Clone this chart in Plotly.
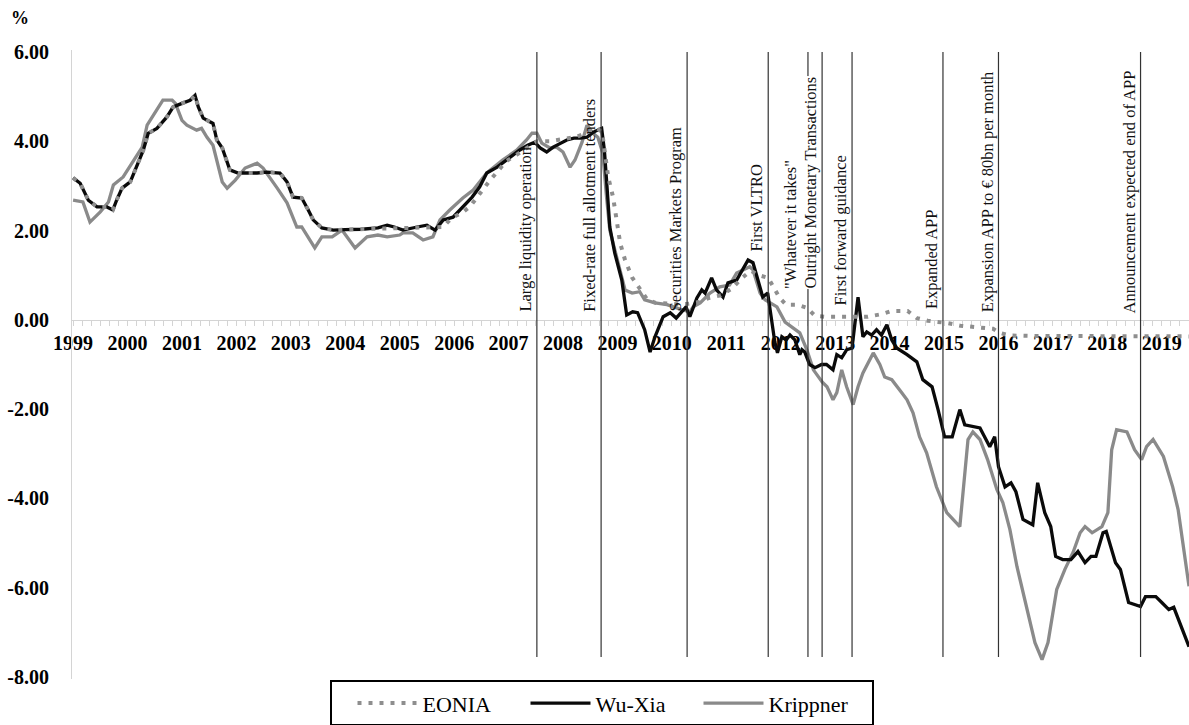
import plotly.graph_objects as go

# ---------------- data (decimal years, % values) ----------------
eonia_t = [1999.00, 1999.13, 1999.28, 1999.44, 1999.62, 1999.73, 1999.80, 1999.90, 2000.05, 2000.20,
           2000.29, 2000.38, 2000.54, 2000.72, 2000.84, 2001.00, 2001.15, 2001.24, 2001.30, 2001.39,
           2001.57, 2001.64, 2001.74, 2001.88, 2002.03, 2002.38, 2002.56, 2002.80, 2002.93, 2003.04,
           2003.20, 2003.32, 2003.41, 2003.57, 2003.78, 2004.20, 2004.60, 2005.00, 2005.40, 2005.80,
           2005.95, 2006.15, 2006.30, 2006.42, 2006.55, 2006.66, 2006.79, 2006.95, 2007.15, 2007.35,
           2007.52, 2007.75, 2008.00, 2008.25, 2008.45, 2008.62, 2008.72, 2008.83, 2008.92, 2008.99,
           2009.05, 2009.14, 2009.27, 2009.41, 2009.55, 2009.70, 2009.90, 2010.10, 2010.30, 2010.50,
           2010.70, 2010.90, 2011.10, 2011.30, 2011.45, 2011.60, 2011.77, 2011.98, 2012.10, 2012.30,
           2012.48, 2012.63, 2012.80, 2013.00, 2013.30, 2013.60, 2013.86, 2014.04, 2014.33, 2014.50,
           2014.70, 2015.05, 2015.30, 2015.50, 2015.71, 2015.90, 2016.02, 2016.20, 2016.60, 2017.00,
           2017.50, 2018.00, 2018.50, 2019.00, 2019.50]
eonia_v = [3.18, 3.06, 2.68, 2.53, 2.53, 2.46, 2.68, 2.95, 3.09, 3.51,
           3.80, 4.18, 4.29, 4.54, 4.77, 4.85, 4.92, 5.03, 4.77, 4.52,
           4.40, 4.03, 3.85, 3.36, 3.29, 3.29, 3.31, 3.29, 3.09, 2.75,
           2.73, 2.46, 2.24, 2.06, 2.01, 2.03, 2.04, 2.05, 2.07, 2.08,
           2.28, 2.40, 2.55, 2.75, 2.95, 3.13, 3.31, 3.55, 3.70, 3.85,
           4.00, 4.00, 4.05, 4.10, 4.20, 4.30, 4.20, 3.20, 2.75, 2.17,
           1.72, 1.34, 0.95, 0.70, 0.45, 0.38, 0.36, 0.35, 0.36, 0.40,
           0.50, 0.55, 0.70, 0.95, 1.10, 1.00, 0.94, 0.49, 0.34, 0.34,
           0.27, 0.09, 0.07, 0.07, 0.07, 0.07, 0.13, 0.20, 0.20, 0.04,
           -0.02, -0.07, -0.13, -0.16, -0.18, -0.20, -0.29, -0.35, -0.36, -0.36,
           -0.36, -0.36, -0.37, -0.37, -0.37]

wuxia_t = [1999.00, 1999.13, 1999.28, 1999.44, 1999.62, 1999.73, 1999.80, 1999.90, 2000.05, 2000.20,
           2000.29, 2000.38, 2000.54, 2000.72, 2000.84, 2001.00, 2001.15, 2001.24, 2001.30, 2001.39,
           2001.57, 2001.64, 2001.74, 2001.88, 2002.03, 2002.38, 2002.56, 2002.80, 2002.93, 2003.04,
           2003.20, 2003.32, 2003.41, 2003.57, 2003.78, 2004.00, 2004.30, 2004.60, 2004.77, 2004.90,
           2005.06, 2005.32, 2005.50, 2005.65, 2005.80, 2005.98, 2006.16, 2006.33, 2006.47, 2006.60,
           2006.79, 2007.03, 2007.20, 2007.35, 2007.48, 2007.58, 2007.70, 2007.82, 2007.95, 2008.07,
           2008.20, 2008.32, 2008.44, 2008.55, 2008.71, 2008.76, 2008.80, 2008.86, 2008.95, 2009.08,
           2009.17, 2009.28, 2009.37, 2009.50, 2009.60, 2009.69, 2009.84, 2009.97, 2010.08, 2010.18,
           2010.26, 2010.33, 2010.46, 2010.55, 2010.61, 2010.73, 2010.82, 2010.94, 2011.03, 2011.19,
           2011.30, 2011.40, 2011.49, 2011.58, 2011.67, 2011.76, 2011.83, 2011.89, 2011.94, 2012.02,
           2012.10, 2012.17, 2012.26, 2012.35, 2012.39, 2012.44, 2012.53, 2012.63, 2012.75, 2012.84,
           2012.96, 2013.03, 2013.12, 2013.21, 2013.31, 2013.36, 2013.42, 2013.51, 2013.58, 2013.67,
           2013.76, 2013.85, 2013.95, 2014.04, 2014.13, 2014.32, 2014.50, 2014.61, 2014.78, 2014.89,
           2015.01, 2015.15, 2015.29, 2015.38, 2015.51, 2015.66, 2015.84, 2015.93, 2016.00, 2016.12,
           2016.23, 2016.32, 2016.45, 2016.63, 2016.72, 2016.85, 2016.96, 2017.05, 2017.18, 2017.33,
           2017.46, 2017.59, 2017.70, 2017.79, 2017.92, 2017.98, 2018.15, 2018.24, 2018.39, 2018.52,
           2018.61, 2018.70, 2018.89, 2019.00, 2019.13, 2019.22, 2019.32, 2019.50]
wuxia_v = [3.18, 3.06, 2.68, 2.53, 2.53, 2.46, 2.68, 2.95, 3.09, 3.51,
           3.80, 4.18, 4.29, 4.54, 4.77, 4.85, 4.92, 5.03, 4.77, 4.52,
           4.40, 4.03, 3.85, 3.36, 3.29, 3.29, 3.31, 3.29, 3.09, 2.75,
           2.73, 2.46, 2.24, 2.06, 2.01, 2.02, 2.03, 2.06, 2.12, 2.08,
           2.01, 2.08, 2.12, 2.01, 2.24, 2.30, 2.53, 2.75, 2.98, 3.29,
           3.42, 3.65, 3.80, 3.91, 3.98, 3.85, 3.76, 3.87, 3.96, 4.03,
           4.07, 4.07, 4.09, 4.20, 4.29, 3.80, 3.13, 2.08, 1.50, 0.89,
           0.11, 0.18, 0.16, -0.22, -0.72, -0.38, 0.07, 0.16, 0.04, 0.18,
           0.29, 0.07, 0.49, 0.67, 0.60, 0.94, 0.67, 0.51, 0.83, 0.89,
           1.12, 1.34, 1.28, 0.89, 0.51, 0.60, 0.07, -0.49, -0.74, -0.38,
           -0.45, -0.34, -0.45, -0.78, -0.67, -0.72, -1.00, -1.07, -1.00, -1.00,
           -1.12, -0.78, -0.85, -0.67, -0.63, -0.16, 0.51, -0.38, -0.27, -0.34,
           -0.22, -0.34, -0.11, -0.45, -0.63, -0.78, -0.94, -1.34, -1.50, -2.01,
           -2.62, -2.62, -2.01, -2.35, -2.39, -2.42, -2.84, -2.62, -3.29, -3.74,
           -3.65, -3.85, -4.47, -4.59, -3.65, -4.32, -4.63, -5.30, -5.37, -5.37,
           -5.19, -5.44, -5.30, -5.30, -4.77, -4.74, -5.44, -5.59, -6.33, -6.38,
           -6.42, -6.20, -6.20, -6.33, -6.49, -6.44, -6.76, -7.32]

krippner_t = [1999.00, 1999.18, 1999.31, 1999.50, 1999.65, 1999.74, 1999.92, 2000.11, 2000.27, 2000.36,
              2000.54, 2000.65, 2000.82, 2000.88, 2001.00, 2001.09, 2001.27, 2001.36, 2001.46, 2001.57,
              2001.74, 2001.83, 2001.98, 2002.16, 2002.38, 2002.49, 2002.75, 2002.93, 2003.11, 2003.20,
              2003.44, 2003.57, 2003.76, 2003.94, 2004.18, 2004.40, 2004.60, 2004.77, 2005.00, 2005.06,
              2005.24, 2005.43, 2005.61, 2005.74, 2005.92, 2006.16, 2006.35, 2006.60, 2006.89, 2007.15,
              2007.33, 2007.43, 2007.52, 2007.61, 2007.76, 2007.88, 2008.00, 2008.13, 2008.22, 2008.35,
              2008.44, 2008.55, 2008.64, 2008.73, 2008.80, 2008.86, 2008.92, 2009.00, 2009.14, 2009.27,
              2009.41, 2009.50, 2009.69, 2009.91, 2010.06, 2010.20, 2010.33, 2010.39, 2010.52, 2010.70,
              2010.88, 2011.06, 2011.19, 2011.30, 2011.43, 2011.49, 2011.62, 2011.71, 2011.80, 2011.93,
              2012.08, 2012.22, 2012.35, 2012.48, 2012.60, 2012.76, 2012.85, 2012.96, 2013.03, 2013.12,
              2013.21, 2013.33, 2013.42, 2013.51, 2013.64, 2013.70, 2013.82, 2013.91, 2014.04, 2014.13,
              2014.22, 2014.32, 2014.43, 2014.55, 2014.68, 2014.86, 2015.05, 2015.29, 2015.35, 2015.44,
              2015.53, 2015.66, 2015.80, 2015.97, 2016.08, 2016.21, 2016.34, 2016.52, 2016.67, 2016.80,
              2016.91, 2017.07, 2017.22, 2017.37, 2017.50, 2017.59, 2017.72, 2017.90, 2018.01, 2018.08,
              2018.17, 2018.36, 2018.50, 2018.63, 2018.72, 2018.84, 2019.03, 2019.20, 2019.30, 2019.50]
krippner_v = [2.68, 2.64, 2.19, 2.42, 2.64, 3.02, 3.20, 3.58, 3.87, 4.36,
              4.70, 4.92, 4.92, 4.85, 4.47, 4.36, 4.25, 4.29, 4.09, 3.91,
              3.09, 2.95, 3.13, 3.40, 3.51, 3.40, 2.95, 2.62, 2.08, 2.08,
              1.61, 1.86, 1.86, 2.01, 1.61, 1.86, 1.90, 1.86, 1.90, 1.95,
              1.95, 1.79, 1.86, 2.24, 2.46, 2.73, 2.91, 3.29, 3.58, 3.80,
              4.03, 4.18, 4.18, 3.96, 3.85, 3.87, 3.76, 3.42, 3.58, 3.98,
              4.36, 4.18, 4.09, 3.74, 2.75, 2.01, 1.72, 1.34, 0.67, 0.60,
              0.63, 0.45, 0.38, 0.34, 0.27, 0.22, 0.18, 0.29, 0.38, 0.60,
              0.74, 0.78, 1.05, 1.12, 1.19, 1.12, 0.60, 0.45, 0.38, 0.29,
              -0.05, -0.18, -0.29, -0.67, -1.12, -1.39, -1.50, -1.79, -1.63, -1.12,
              -1.50, -1.90, -1.50, -1.19, -0.89, -0.74, -1.00, -1.28, -1.34, -1.50,
              -1.63, -1.79, -2.08, -2.62, -2.98, -3.74, -4.32, -4.63, -3.87, -2.68,
              -2.51, -2.68, -3.13, -3.80, -4.09, -4.70, -5.53, -6.49, -7.23, -7.61,
              -7.23, -6.04, -5.59, -5.21, -4.77, -4.63, -4.77, -4.63, -4.32, -2.91,
              -2.46, -2.51, -2.91, -3.13, -2.84, -2.68, -3.06, -3.74, -4.25, -5.97]

event_x = [2007.52, 2008.70, 2010.28, 2011.77, 2012.50, 2012.76, 2013.31, 2014.98, 2016.00, 2018.61]
event_labels = ["Large liquidity operation", "Fixed-rate full allotment tenders",
                "Securities Markets Program", "First VLTRO", "\"Whatever it takes\"",
                "Outright Monetary Transactions", "First forward guidance", "Expanded APP",
                "Expansion APP to € 80bn per month", "Announcement expected end of APP"]
event_label_base = [0.16, 0.16, 0.16, 1.50, 0.67, 0.67, 0.29, 0.22, 0.16, 0.11]

year_ticks = list(range(1999, 2020))
year_labels = [str(y) for y in year_ticks]
y_ticks = [-8, -6, -4, -2, 0, 2, 4, 6]
y_labels = ["-8.00", "-6.00", "-4.00", "-2.00", "0.00", "2.00", "4.00", "6.00"]

# ---------------- styling ----------------
SERIF = "Liberation Serif"
Y_MIN, Y_MAX = -8.045, 6.045
label_xshift = [-1, -1, -1, -1, -7, -1, -1, -1, -1, -1]

fig = go.Figure()
fig.add_trace(go.Scatter(x=krippner_t, y=krippner_v, name="Krippner", mode="lines",
                         line=dict(color="#8a8a8a", width=3.3), legendrank=3))
fig.add_trace(go.Scatter(x=wuxia_t, y=wuxia_v, name="Wu-Xia", mode="lines",
                         line=dict(color="#0a0a0a", width=3.3), legendrank=2))
fig.add_trace(go.Scatter(x=eonia_t, y=eonia_v, name="EONIA", mode="lines",
                         line=dict(color="#8e8e8e", width=4.0, dash="4px,7px"), legendrank=1))

for ex in event_x:
    fig.add_shape(type="line", x0=ex, x1=ex, y0=-7.55, y1=6.0, xref="x", yref="y",
                  line=dict(color="#333333", width=1.2), layer="above")

for ex, lab, base, xs in zip(event_x, event_labels, event_label_base, label_xshift):
    fig.add_annotation(x=ex, y=base, xref="x", yref="y", text=lab, showarrow=False,
                       textangle=-90, xanchor="right", yanchor="bottom", xshift=xs,
                       font=dict(family=SERIF, size=16.5, color="#111111"),
                       bgcolor="white" if lab.startswith("Outright") else None,
                       borderpad=0)

fig.add_annotation(xref="paper", yref="paper", x=-52 / 1117, y=1 + 32 / 629,
                   xanchor="center", yanchor="middle", text="<b>%</b>", showarrow=False,
                   font=dict(family=SERIF, size=18, color="black"))

fig.update_layout(
    width=1189, height=725,
    font=dict(family=SERIF, color="black"),
    margin=dict(l=72, r=0, t=50, b=46, autoexpand=False),
    paper_bgcolor="white", plot_bgcolor="white",
    showlegend=True,
    legend=dict(orientation="h", x=(330 - 72) / 1117, xanchor="left", y=-0.002, yanchor="top",
                bordercolor="black", borderwidth=2, bgcolor="white",
                font=dict(family=SERIF, size=22, color="black"),
                title=dict(text="&nbsp;&nbsp;&nbsp;", side="left",
                           font=dict(family=SERIF, size=14)),
                itemwidth=60, entrywidth=98, entrywidthmode="pixels", traceorder="normal"),
    xaxis=dict(range=[1998.98, 2019.5], tickmode="array", tickvals=year_ticks, ticktext=year_labels,
               anchor="free", position=-Y_MIN / (Y_MAX - Y_MIN), showline=True,
               linecolor="#d4d4d4", linewidth=1, ticks="outside", ticklen=5, tickcolor="#d4d4d4",
               minor=dict(tickmode="linear", tick0=1999, dtick=1 / 6, ticks="outside",
                          ticklen=5, tickcolor="#d4d4d4"),
               showgrid=False, zeroline=False, layer="below traces",
               tickfont=dict(family=SERIF, size=20, color="black", weight="bold")),
    yaxis=dict(range=[Y_MIN, Y_MAX], tickmode="array", tickvals=y_ticks, ticktext=y_labels,
               showline=True, linecolor="#d4d4d4", linewidth=1, ticks="outside", ticklen=18,
               tickcolor="rgba(0,0,0,0)", showgrid=False, zeroline=False,
               tickfont=dict(family=SERIF, size=20, color="black", weight="bold")),
)

fig.write_html("out.html", config={"displayModeBar": False},
               post_script="document.body.style.margin='0px';")
